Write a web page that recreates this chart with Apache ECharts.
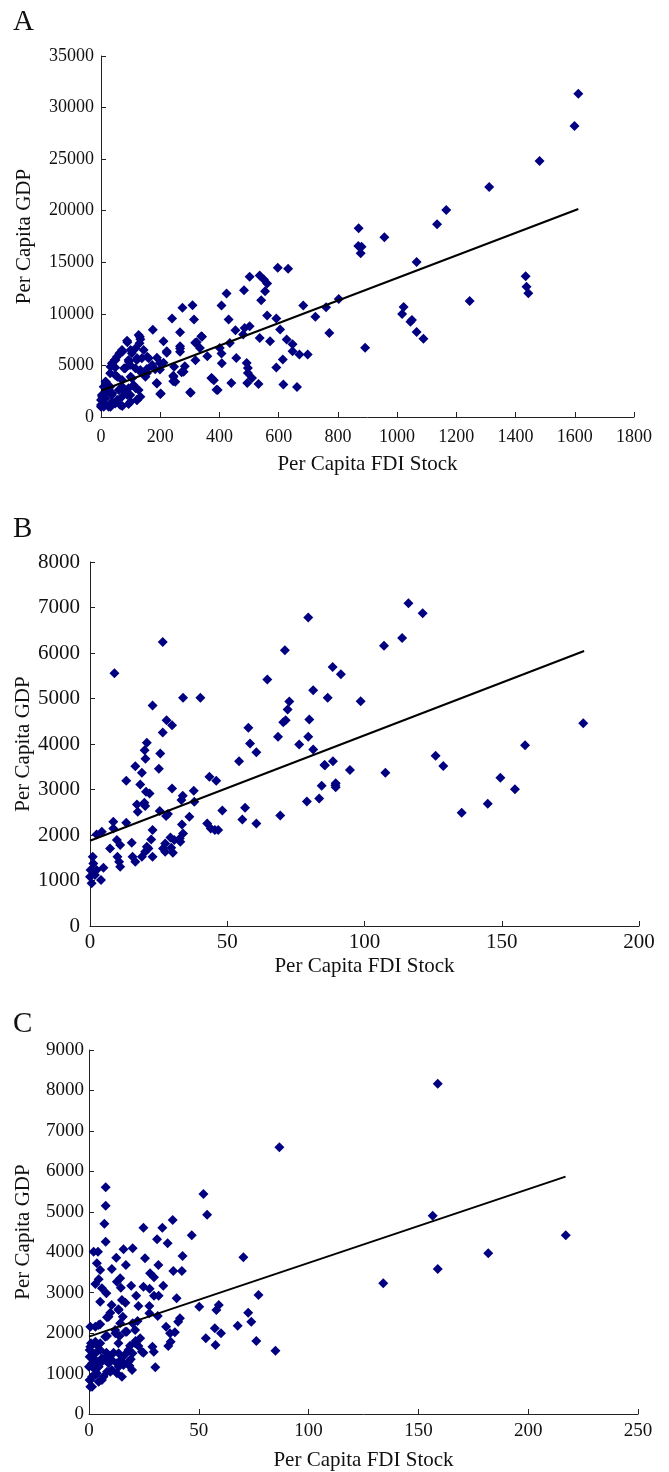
<!DOCTYPE html>
<html>
<head>
<meta charset="utf-8">
<script src="https://cdn.jsdelivr.net/npm/echarts@6/dist/echarts.min.js"></script>
<style>
html, body { margin: 0; padding: 0; background: #fff; }
#main { width: 669px; height: 1472px; }
</style>
</head>
<body>
<div id="main"></div>
<script>
// panel A : per capita FDI stock vs per capita GDP
var pointsA = [
	[597,14465],[632,14370],[502,13590],[536,13720],[550,13330],[561,12940],[554,12200],[483,12300],[424,11970],[541,11330],
	[309,10840],[275,10580],[407,10810],[683,10810],[561,9840],[592,9550],[314,9450],[240,9550],[431,9450],[724,9710],
	[175,8450],[267,8220],[485,8640],[502,8800],[454,8410],[605,8480],[771,8150],[627,7510],[536,7670],[571,7350],
	[480,7990],[339,7830],[323,7250],[211,7350],[647,7050],[435,7180],[401,6700],[407,6150],[334,6700],[267,6860],
	[222,6370],[359,5890],[670,6050],[698,6050],[647,6370],[457,5730],[492,5240],[496,4760],[592,4790],[614,5570],
	[319,5500],[283,4920],[272,4340],[244,4010],[244,3460],[373,3790],[381,3560],[496,4270],[510,3790],[494,3300],
	[440,3300],[532,3200],[616,3140],[662,2910],[390,2650],[301,2390],[202,2270],[188,3300],[199,5240],[199,4600],
	[155,4660],
	[127,7950],[133,7530],[88,7400],[116,6650],[130,7140],[71,6490],[62,6170],[54,5850],[46,5520],[37,5200],
	[104,6170],[144,6490],[93,5520],[121,5520],[138,5690],[161,5690],[189,5750],[222,6230],[267,6650],[267,6330],
	[318,7200],[341,7780],[98,5040],[82,4720],[48,4810],[31,4230],[15,3420],[9,2940],[48,4070],[116,4720],
	[133,4390],[155,4230],[183,4620],[211,5260],[247,4880],[279,4390],[245,3910],[251,3420],[189,3260],[105,3750],
	[71,3590],[60,2620],[93,2780],[127,2620],[200,2230],[303,2360],[374,3750],[394,2620],[408,5200],[3,2130],
	[0,1650],[15,1810],[3,1160],[37,2130],[48,1320],[71,1970],[65,1160],[93,1260],[121,1650],[37,1490],
	[26,1000],[9,1000],[0,1160],[99,2130],[110,3100],[31,2940],[82,2450],[20,2450],
	[131,7790],[89,7240],[72,6330],[100,6500],[156,5850],[49,5530],[94,5360],[122,5690],[173,5040],[32,4880],
	[78,4720],[133,4560],[55,3910],[100,3910],[150,3910],[16,3420],[72,2940],[117,2780],[38,2300],[89,2130],
	[133,1970],[4,1970],[10,1330],[55,1650],[100,1490],[122,1650],[32,1000],[0,1000],[72,1070],
	[1612,31340],[1599,28210],[1481,24820],[1311,22300],[1166,20070],[1135,18680],[870,18290],[957,17420],[869,16580],[880,16510],
	[877,15870],[1066,15030],[1434,13640],[1437,12630],[1443,11990],[1245,11250],[803,11440],[760,10630],[1022,10660],[1017,9990],
	[1045,9240],[1050,9400],[1066,8240],[1089,7590],[892,6720]
];
var trendA = [[0,2550],[1612,20170]];

// panel B
var pointsB = [
	[79.5,6778],[26.5,6243],[71.0,6060],[8.9,5555],[64.6,5416],[88.4,5694],[33.9,5014],[40.2,5014],[22.8,4845],[81.3,5182],
	[86.6,5014],[72.6,4933],[72.0,4757],[71.3,4523],[70.4,4479],[79.9,4538],[27.9,4523],[29.9,4413],[26.5,4252],[57.7,4355],
	[68.5,4157],[79.5,4157],[58.3,4011],[76.2,3989],[20.7,4025],[19.9,3864],[25.6,3791],[60.6,3820],[81.3,3879],[20.2,3674],
	[54.3,3623],[88.5,3623],[85.6,3535],[16.5,3513],[25.1,3455],[18.9,3367],[13.2,3191],[43.5,3279],[46.0,3191],[18.3,3110],
	[29.9,3023],[84.4,3081],[89.4,3096],[20.4,2950],[21.7,2913],[37.8,2971],[33.8,2862],[33.3,2767],[38.0,2730],[17.1,2671],
	[19.8,2708],[20.1,2635],[56.5,2598],[79.0,2737],[83.5,2803],[25.4,2525],[17.4,2510],[48.2,2540],[27.7,2415],[28.4,2459],
	[36.2,2401],[33.5,2232],[13.2,2269],[8.5,2291],[8.5,2144],[55.5,2342],[60.6,2254],[69.3,2430],[42.7,2254],[44.0,2144],
	[45.5,2108],[46.7,2108],[22.8,2108],[4.3,2071],[2.4,2013],[33.9,2035],[32.7,1925],[29.3,1947],[30.7,1888],[22.3,1903],
	[9.8,1888],[11.0,1778],[15.2,1830],[7.3,1705],[27.4,1815],[26.6,1705],[32.9,1852],[29.6,1720],[30.2,1610],[27.4,1632],
	[21.3,1705],[20.1,1632],[18.9,1522],[22.8,1522],[20.7,1742],[15.5,1522],[16.5,1413],[10.0,1522],[10.6,1413],[11.0,1303],
	[4.9,1281],[4.0,1010],[1.0,1522],[1.2,1376],[0.2,1230],[1.8,1120],[0.6,937],[0,1083],[2.4,1230],
	[116.0,7093],[121.2,6873],[113.7,6330],[107.1,6161],[91.4,5532],[98.6,4939],[179.7,4455],[158.5,3971],[125.9,3743],[128.7,3517],
	[85.4,3539],[94.7,3429],[107.6,3370],[149.5,3260],[154.8,3004],[144.9,2689],[135.4,2491],[89.5,3136],[89.5,3048]
];
var trendB = [[0,1874],[180,6045]];

// panel C
var pointsC = [
	[86.7,6594],[52.1,5440],[53.8,4929],[7.6,5605],[7.6,5151],[7.0,4706],[7.6,4261],[24.8,4607],[33.4,4607],[38.1,4797],
	[46.8,4418],[31.0,4319],[35.8,4220],[2.1,4014],[4.1,4014],[15.7,4072],[19.9,4096],[12.4,3866],[25.5,3849],[42.6,3907],
	[70.3,3874],[3.6,3725],[5.1,3561],[16.8,3684],[10.4,3585],[31.6,3684],[27.8,3478],[29.6,3379],[38.4,3536],[42.3,3536],
	[14.2,3354],[12.7,3272],[4.4,3330],[2.9,3214],[33.8,3173],[19.2,3173],[14.5,3124],[24.8,3148],[27.6,3099],[5.9,3107],
	[7.9,2984],[77.2,2942],[21.5,2926],[29.6,2926],[31.7,2926],[5.1,2778],[15.0,2819],[16.6,2753],[39.9,2860],[10.3,2695],
	[22.5,2670],[50.2,2654],[59.1,2695],[58.0,2572],[27.5,2670],[13.4,2588],[9.7,2506],[27.5,2489],[31.3,2423],[72.5,2506],
	[8.2,2390],[15.4,2407],[41.4,2365],[40.6,2283],[73.9,2283],[14.2,2242],[19.9,2242],[22.1,2300],[5.1,2217],[2.9,2159],
	[67.7,2184],[35.1,2159],[57.3,2118],[11.9,2077],[17.2,2036],[21.0,2077],[39.1,2019],[60.1,1995],[36.9,1995],[8.2,1929],
	[13.9,1929],[53.2,1871],[23.3,1871],[76.2,1805],[21.2,1805],[13.4,1747],[18.7,1690],[37.2,1789],[36.1,1681],[57.6,1706],
	[28.9,1665],[22.5,1681],[84.9,1566],[24.8,1517],[29.5,1541],[7.9,1517],[11.2,1517],[16.2,1459],[19.8,1500],[5.9,1376],
	[10.4,1335],[14.5,1335],[19.0,1352],[2.9,1335],[5.1,1253],[12.7,1253],[15.7,1212],[18.4,1195],[30.2,1154],[10.4,1088],
	[12.7,1006],[8.2,1047],[3.6,1006],[1.4,923],[4.4,800],[0.6,676],[0.3,841],[1.8,1253],[0.3,1582],[0.9,1747],
	[2.9,1789],[0.3,1418],[2.1,1129],[5.1,1582],[3.6,1706],[0,1170],[6.6,923],[8.9,1253],
	[0.6,2159],[4.4,2201],[8.9,2406],[13.5,2572],[7.4,1912],[12.0,1995],[16.5,2036],[21.1,1748],[24.1,1541],[18.0,1583],
	[13.5,1501],[8.9,1459],[18.0,1293],[13.5,1170],[9.7,1046],[5.9,841],[1.4,676],[0.6,1665],[2.9,1501],[1.4,1254],
	[4.4,1170],[2.9,964],[0.6,841],[5.1,1748],[7.4,1335],[19.6,1088],[15.0,922],
	[158.8,8168],[156.5,4904],[217.1,4419],[181.8,3974],[158.8,3586],[134.0,3232]
];
var trendC = [[0,1912],[217,5869]];

var serif = '"Liberation Serif", "DejaVu Serif", serif';
var dotColor = '#000080';

function plainNumber(v) {
	return String(v);
}

function makeX(idx, max, step, fs, margin, gap) {
	return {
		gridIndex: idx,
		type: 'value',
		min: 0, max: max, interval: step,
		name: 'Per Capita FDI Stock',
		nameLocation: 'middle',
		nameGap: gap,
		nameMoveOverlap: false,
		nameTextStyle: { fontFamily: serif, fontSize: 21, color: '#111' },
		splitLine: { show: false },
		axisLine: { onZero: false, lineStyle: { color: '#222', width: 1 } },
		axisTick: { inside: true, length: 5, lineStyle: { color: '#222' } },
		axisLabel: { fontFamily: serif, fontSize: fs, color: '#111', margin: margin, formatter: plainNumber }
	};
}

function makeY(idx, max, step, fs, margin, gap) {
	return {
		gridIndex: idx,
		type: 'value',
		min: 0, max: max, interval: step,
		name: 'Per Capita GDP',
		nameLocation: 'middle',
		nameGap: gap,
		nameMoveOverlap: false,
		nameTextStyle: { fontFamily: serif, fontSize: 21, color: '#111' },
		splitLine: { show: false },
		axisLine: { onZero: false, lineStyle: { color: '#222', width: 1 } },
		axisTick: { inside: true, length: 5, lineStyle: { color: '#222' } },
		axisLabel: { fontFamily: serif, fontSize: fs, color: '#111', margin: margin, formatter: plainNumber }
	};
}

function dots(idx, data) {
	return {
		type: 'scatter',
		xAxisIndex: idx, yAxisIndex: idx,
		symbol: 'diamond',
		symbolSize: 10,
		itemStyle: { color: dotColor, opacity: 1 },
		data: data,
		z: 2
	};
}

function trend(idx, data) {
	return {
		type: 'line',
		xAxisIndex: idx, yAxisIndex: idx,
		symbol: 'none',
		lineStyle: { color: '#000', width: 2 },
		data: data,
		z: 3
	};
}

var chart = echarts.init(document.getElementById('main'));
chart.setOption({
	animation: false,
	backgroundColor: '#fff',
	graphic: [
		{ type: 'text', left: 13, top: 8, style: { text: 'A', font: '29px ' + serif, fill: '#111' } },
		{ type: 'text', left: 13, top: 515, style: { text: 'B', font: '29px ' + serif, fill: '#111' } },
		{ type: 'text', left: 13, top: 1010, style: { text: 'C', font: '29px ' + serif, fill: '#111' } }
	],
	grid: [
		{ left: 101, top: 56, right: 35, height: 361 },
		{ left: 90, top: 562, right: 30, height: 364 },
		{ left: 89, top: 1050, right: 31, height: 364 }
	],
	xAxis: [
		makeX(0, 1800, 200, 18, 11, 37),
		makeX(1, 200, 50, 21, 6, 30),
		makeX(2, 250, 50, 19, 8, 36)
	],
	yAxis: [
		makeY(0, 35000, 5000, 18, 7, 66),
		makeY(1, 8000, 1000, 21, 10, 56),
		makeY(2, 9000, 1000, 19, 5, 55)
	],
	series: [
		dots(0, pointsA), trend(0, trendA),
		dots(1, pointsB), trend(1, trendB),
		dots(2, pointsC), trend(2, trendC)
	]
});
</script>
</body>
</html>
